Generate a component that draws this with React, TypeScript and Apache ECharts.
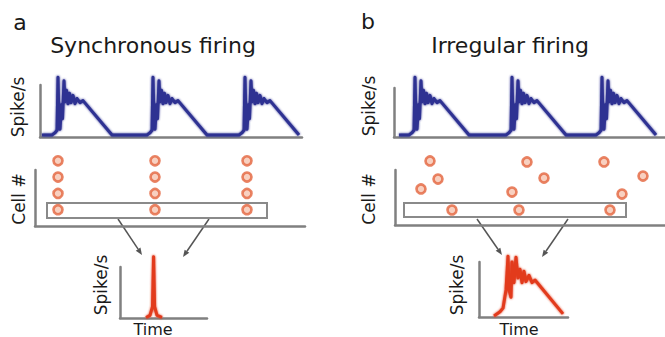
import React, { useEffect, useRef } from "react";
import * as echarts from "echarts";

// ---------------- DATA ----------------
// Population firing-rate burst profile: [time (ms from panel origin), rate (spike/s)]
const burstProfile: [number, number][] = [
  [2, 4], [12, 4], [15, 8], [17, 13], [18, 115], [19, 31], [20, 15], [21.5, 62],
  [22.5, 35], [24, 108], [25, 68], [26.5, 90], [28, 64], [29.5, 84], [31, 66],
  [33, 80], [35, 64], [37, 74], [40, 66], [43, 70], [72, 4],
];
const burstOnsetsSync = [0, 95, 187];
const burstOnsetsIrregular = [3, 100, 190];

// Raster: synchronous firing – every cell fires at the same times
const syncSpikeTimes = [23, 120, 212];
const syncCells = [1, 2, 3, 4];
// Raster: irregular firing – [time, cell]
const irregularSpikes: [number, number][] = [
  [35, 3.93], [43, 2.82], [26, 2.21], [57, 0.92],
  [132, 3.87], [149, 2.88], [117, 2.02], [124, 0.92],
  [209, 3.87], [248, 3.0], [227, 1.9], [215, 0.92],
];
// Highlighted cell box (time range, cell range)
const syncBox = { t0: 12, t1: 232, c0: 0.49, c1: 1.41 };
const irregularBox = { t0: 9, t1: 231, c0: 0.49, c1: 1.35 };

// Summed output rate of the highlighted cell
const syncOutputRate: [number, number][] = [
  [26, 1], [30, 5], [32.5, 22], [33.6, 118], [34.6, 22], [37, 5], [42, 1],
];
const irregularOutputRate: [number, number][] = [
  [15, 2], [21, 10], [24, 17], [27, 52], [29, 117], [30, 52], [32, 38], [33, 106],
  [35, 66], [37, 115], [39, 75], [41, 92], [43, 66], [45, 88], [47, 68], [50, 80],
  [53, 66], [56, 71], [84, 6],
];

// ---------------- LAYOUT ----------------
const FONT = '"DejaVu Sans", "Noto Sans", sans-serif';
const AXIS_COLOR = "#808080";
const BLUE = "#2e3192";
const RED = "#e23b1f";
const RATE_PX = 0.52; // px per spike/s unit
const CELL_PX = 16.3; // px per cell

const grids = [
  { left: 40, top: 85, width: 262, height: 52 }, // 0 top a
  { left: 394, top: 88, width: 271, height: 49 }, // 1 top b
  { left: 35, top: 170, width: 270, height: 56 }, // 2 raster a
  { left: 395, top: 170, width: 270, height: 55 }, // 3 raster b
  { left: 120, top: 267, width: 87, height: 51 }, // 4 bottom a
  { left: 479, top: 262, width: 89, height: 55 }, // 5 bottom b
];
const yScale = [RATE_PX, RATE_PX, CELL_PX, CELL_PX, RATE_PX, RATE_PX];

const arrows = [
  [118, 219, 142, 255],
  [209, 219, 183, 257],
  [477, 219, 502, 255],
  [568, 219, 542, 257],
];

function arrowGraphics() {
  const out: any[] = [];
  arrows.forEach(([x1, y1, x2, y2]) => {
    const dx = x2 - x1, dy = y2 - y1;
    const len = Math.hypot(dx, dy);
    const ux = dx / len, uy = dy / len;
    const px = -uy, py = ux;
    const hl = 7, hw = 2.8;
    const bx = x2 - ux * hl, by = y2 - uy * hl;
    out.push({
      type: "line",
      shape: { x1, y1, x2: bx, y2: by },
      style: { stroke: "#555", lineWidth: 1.5 },
    });
    out.push({
      type: "polygon",
      shape: { points: [[x2, y2], [bx + px * hw, by + py * hw], [bx - px * hw, by - py * hw]] },
      style: { fill: "#555" },
    });
  });
  return out;
}

function txt(text: string, x: number, y: number, size: number, rot = 0) {
  return {
    type: "text",
    x,
    y,
    rotation: rot,
    style: {
      text,
      font: `${size}px ${FONT}`,
      fill: "#1a1a1a",
      textAlign: "center",
      textVerticalAlign: "middle",
    },
  };
}

export default function App() {
  const ref = useRef<HTMLDivElement>(null);
  useEffect(() => {
    if (!ref.current) return;
    const chart = echarts.init(ref.current, undefined, { renderer: "svg" });

    const axisBase = {
      type: "value" as const,
      min: 0,
      axisLine: { show: true, onZero: false, lineStyle: { color: AXIS_COLOR, width: 2.5 } },
      axisTick: { show: false },
      axisLabel: { show: false },
      splitLine: { show: false },
    };
    const xAxis = grids.map((g, i) => ({ ...axisBase, gridIndex: i, max: g.width }));
    const yAxis = grids.map((g, i) => ({ ...axisBase, gridIndex: i, max: g.height / yScale[i] }));

    const trace = (onsets: number[]) =>
      onsets.flatMap((o) => burstProfile.map(([t, r]) => [t + o, r]));

    const syncSpikes = syncSpikeTimes.flatMap((t) => syncCells.map((c) => [t, c]));

    const lineSeries = (data: number[][], idx: number, color: string, width: number) => ({
      type: "line",
      data,
      xAxisIndex: idx,
      yAxisIndex: idx,
      symbol: "none",
      showSymbol: false,
      clip: false,
      silent: true,
      lineStyle: { color, width, join: "round", shadowColor: color, shadowBlur: 2 },
    });

    const dotStyle = { color: "#f6c4b0", borderColor: "#e4653f", borderWidth: 2.6 };
    const boxArea = (b: { t0: number; t1: number; c0: number; c1: number }) => ({
      silent: true,
      itemStyle: { color: "rgba(255,255,255,0)", borderColor: "#8a8a8a", borderWidth: 2 },
      data: [[{ coord: [b.t0, b.c0] }, { coord: [b.t1, b.c1] }]],
    });
    const rasterSeries = (data: number[][], idx: number, box: any) => ({
      type: "scatter",
      data,
      xAxisIndex: idx,
      yAxisIndex: idx,
      symbol: "circle",
      symbolSize: 9,
      clip: false,
      silent: true,
      itemStyle: dotStyle,
      markArea: boxArea(box),
    });

    chart.setOption({
      animation: false,
      backgroundColor: "#fff",
      grid: grids.map((g) => ({ ...g, containLabel: false })),
      xAxis,
      yAxis,
      series: [
        lineSeries(trace(burstOnsetsSync), 0, BLUE, 3),
        lineSeries(trace(burstOnsetsIrregular), 1, BLUE, 3),
        rasterSeries(syncSpikes, 2, syncBox),
        rasterSeries(irregularSpikes, 3, irregularBox),
        lineSeries(syncOutputRate, 4, RED, 3),
        lineSeries(irregularOutputRate, 5, RED, 3),
      ],
      graphic: [
        txt("a", 20, 22, 22),
        txt("b", 368, 21, 22),
        txt("Synchronous firing", 153, 45, 22),
        txt("Irregular firing", 510, 45, 22),
        txt("Spike/s", 17.5, 107, 17, Math.PI / 2),
        txt("Spike/s", 368.5, 106, 17, Math.PI / 2),
        txt("Cell #", 18.5, 199, 17, Math.PI / 2),
        txt("Cell #", 368.5, 199, 17, Math.PI / 2),
        txt("Spike/s", 100.5, 285, 17, Math.PI / 2),
        txt("Spike/s", 456.5, 285, 17, Math.PI / 2),
        txt("Time", 153, 329, 16),
        txt("Time", 519, 329, 16),
        ...arrowGraphics(),
      ],
    });
    return () => chart.dispose();
  }, []);
  return (
    <div
      ref={ref}
      style={{ position: "fixed", left: 0, top: 0, width: 665, height: 337, background: "#fff" }}
    />
  );
}
